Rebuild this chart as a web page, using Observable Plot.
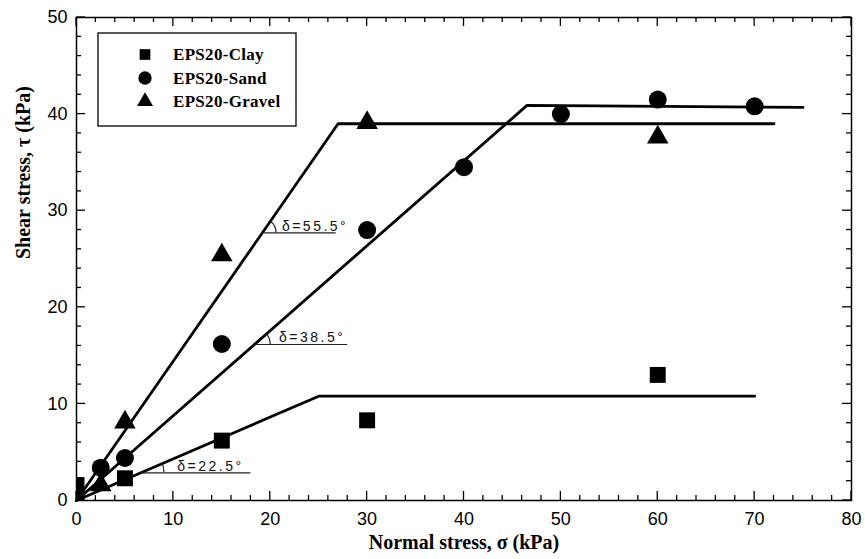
<!DOCTYPE html>
<html><head><meta charset="utf-8">
<script src="https://cdn.jsdelivr.net/npm/d3@7"></script>
<script src="https://cdn.jsdelivr.net/npm/@observablehq/plot@0.6"></script>
<style>
html,body{margin:0;padding:0;background:#fff;}
#chart{width:865px;height:559px;}
</style></head><body><div id="chart"></div>
<script>
// ---- data ----
const seriesNames = ["EPS20-Clay", "EPS20-Sand", "EPS20-Gravel"];
const seriesSymbols = ["square", "circle", "triangle"];
const clayX = [0, 0, 5, 15, 30, 60];
const clayY = [0.2, 1.6, 2.3, 6.2, 8.3, 13.0];
const sandX = [2.5, 5, 15, 30, 40, 50, 60, 70];
const sandY = [3.4, 4.4, 16.2, 28.0, 34.5, 40.0, 41.5, 40.8];
const gravelX = [2.5, 5, 15, 30, 60];
const gravelY = [1.6, 8.1, 25.4, 39.1, 37.6];
// bilinear envelopes
const clayFitX = [0, 25, 70];
const clayFitY = [0, 10.8, 10.8];
const sandFitX = [0, 46.5, 75];
const sandFitY = [0, 40.9, 40.7];
const gravelFitX = [0, 27, 72];
const gravelFitY = [0, 39.0, 39.0];
// angle annotations (gravel, sand, clay)
const annoText = ["δ=55.5°", "δ=38.5°", "δ=22.5°"];
const annoX1 = [19.2, 18.5, 6.6];
const annoX2 = [26.8, 28.0, 18.0];
const annoY = [27.7, 16.15, 2.87];
const annoTextX = [21.2, 20.9, 10.4];
// ticks
const xTicks = [0, 10, 20, 30, 40, 50, 60, 70, 80];
const yTicks = [0, 10, 20, 30, 40, 50];
const xMinor = d3.range(0, 81, 2).filter(v => v % 10 !== 0);
const yMinor = d3.range(0, 51, 2).filter(v => v % 10 !== 0);
const xTitle = "Normal stress, σ (kPa)";
const yTitle = "Shear stress, τ (kPa)";

// ---- tables ----
const pts = (xs, ys) => xs.map((x, i) => ({x, y: ys[i]}));
const clayPts = pts(clayX, clayY), sandPts = pts(sandX, sandY), gravelPts = pts(gravelX, gravelY);
const fits = [
  ...pts(clayFitX, clayFitY).map(d => ({...d, s: seriesNames[0]})),
  ...pts(sandFitX, sandFitY).map(d => ({...d, s: seriesNames[1]})),
  ...pts(gravelFitX, gravelFitY).map(d => ({...d, s: seriesNames[2]}))
];
const annoFits = [[gravelFitX, gravelFitY], [sandFitX, sandFitY], [clayFitX, clayFitY]];
const annos = annoText.map((t, i) => ({t, x1: annoX1[i], x2: annoX2[i], y: annoY[i], tx: annoTextX[i]}));
const arcR = [14, 15, 24];

const serif = "'Liberation Serif','Times New Roman',serif";
const sans = "'Liberation Sans',Arial,Helvetica,sans-serif";

const arcMark = (index, {x, y}) => {
  const g = d3.create("svg:g").attr("fill", "none").attr("stroke", "#222").attr("stroke-width", 1.2);
  annos.forEach((a, i) => {
    const [fx, fy] = annoFits[i];
    const ang = Math.atan2(y(0) - y(fy[1]), x(fx[1]) - x(0));
    const vx = x(a.x1), vy = y(a.y), r = arcR[i];
    g.append("path").attr("d",
      `M${vx + r},${vy}A${r},${r} 0 0 0 ${vx + r * Math.cos(ang)},${vy - r * Math.sin(ang)}`);
  });
  return g.node();
};

const tickMark = (index, {x, y}, values, dims) => {
  const g = d3.create("svg:g").attr("stroke", "black").attr("stroke-width", 1.3);
  const L = dims.marginLeft, R = dims.width - dims.marginRight;
  const T = dims.marginTop, B = dims.height - dims.marginBottom;
  const add = (x1, y1, x2, y2) => g.append("line").attr("x1", x1).attr("y1", y1).attr("x2", x2).attr("y2", y2);
  for (const v of [...xTicks, ...xMinor]) {
    const len = xTicks.includes(v) ? 9 : 5, px = x(v);
    add(px, B, px, B - len); add(px, T, px, T + len);
  }
  for (const v of [...yTicks, ...yMinor]) {
    const len = yTicks.includes(v) ? 9 : 5, py = y(v);
    add(L, py, L + len, py); add(R, py, R - len, py);
  }
  return g.node();
};

const legendMark = (index, scales, values, dims) => {
  const L = dims.marginLeft + 22, T = dims.marginTop + 16, W = 198, H = 93;
  const g = d3.create("svg:g").attr("aria-label", "legend");
  g.append("rect").attr("x", L).attr("y", T).attr("width", W).attr("height", H)
    .attr("fill", "white").attr("stroke", "black").attr("stroke-width", 1.3);
  const symMap = {square: d3.symbolSquare, circle: d3.symbolCircle, triangle: d3.symbolTriangle};
  const sizes = {square: 114, circle: 139, triangle: 111};
  seriesNames.forEach((name, i) => {
    const cy = T + 21.5 + i * 23.5;
    g.append("path").attr("transform", `translate(${L + 47},${cy})`)
      .attr("d", d3.symbol(symMap[seriesSymbols[i]], sizes[seriesSymbols[i]])()).attr("fill", "black");
    g.append("text").attr("x", L + 75).attr("y", cy).attr("dy", "0.35em")
      .attr("text-anchor", "start")
      .attr("font-family", serif).attr("font-weight", "bold").attr("font-size", 17)
      .attr("letter-spacing", "0.3px")
      .attr("fill", "black").text(name);
  });
  return g.node();
};

const chart = Plot.plot({
  width: 865, height: 559,
  marginLeft: 76, marginRight: 14, marginTop: 17, marginBottom: 59,
  x: {domain: [0, 80]},
  y: {domain: [0, 50]},
  style: {fontFamily: sans, background: "white", color: "black", overflow: "visible"},
  marks: [
    Plot.axisX(xTicks, {anchor: "bottom", tickSize: 0, tickPadding: 12, fontSize: 18, label: null}),
    Plot.axisY(yTicks, {anchor: "left", tickSize: 0, tickPadding: 9, fontSize: 18, label: null}),
    Plot.line(fits, {x: "x", y: "y", z: "s", stroke: "black", strokeWidth: 2.8}),
    Plot.ruleY(annos, {y: "y", x1: "x1", x2: "x2", stroke: "#222", strokeWidth: 1.2}),
    Plot.text(annos, {x: "tx", y: "y", text: "t", textAnchor: "start", lineAnchor: "bottom", dy: -2,
      fontSize: 14, fontFamily: sans, fill: "#111"}),
    arcMark,
    Plot.dot(clayPts, {x: "x", y: "y", symbol: "square", r: 9, fill: "black", stroke: null, clip: true}),
    Plot.dot(sandPts, {x: "x", y: "y", symbol: "circle", r: 9, fill: "black", stroke: null, clip: true}),
    Plot.dot(gravelPts, {x: "x", y: "y", symbol: "triangle", r: 8, fill: "black", stroke: null, clip: true}),
    tickMark,
    Plot.frame({stroke: "black", strokeWidth: 1.5}),
    legendMark,
    Plot.text([xTitle], {text: d => d, frameAnchor: "bottom", dy: 48, fontFamily: serif, fontWeight: "bold", fontSize: 20}),
    Plot.text([yTitle], {text: d => d, frameAnchor: "left", dx: -53, rotate: -90, fontFamily: serif, fontWeight: "bold", fontSize: 20})
  ]
});
d3.select(chart).selectAll("text")
  .filter(function() { return this.textContent.startsWith("δ"); })
  .attr("letter-spacing", "2.5px").style("letter-spacing", "2.5px");
document.getElementById("chart").appendChild(chart);
</script>
</body></html>
